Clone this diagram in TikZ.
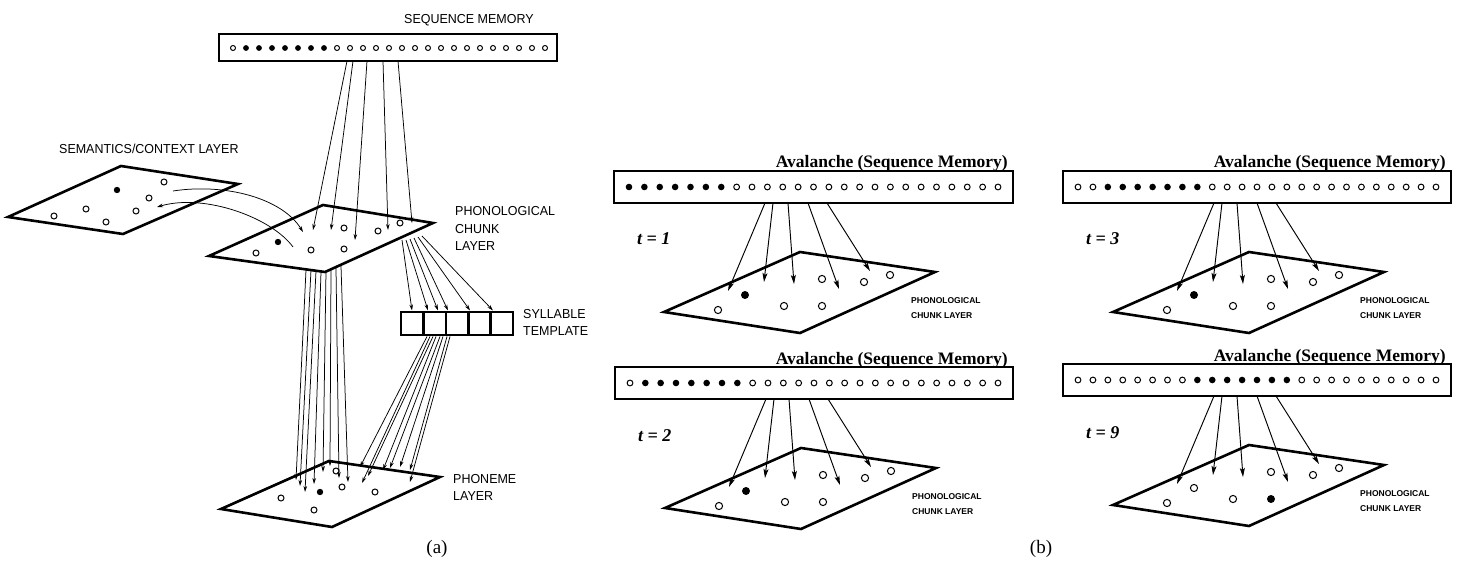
\documentclass[tikz,border=0pt]{standalone}
\usepackage{fontspec}
\setmainfont{Liberation Serif}
\setsansfont{Liberation Sans}
\usetikzlibrary{arrows.meta}
\tikzset{
  lab/.style={font=\sffamily\fontsize{13}{15}\selectfont, inner sep=0pt, anchor=base west, xscale=0.96},
  smalllab/.style={font=\sffamily\bfseries\fontsize{8.5}{10}\selectfont, inner sep=0pt, anchor=base west},
  avlab/.style={font=\rmfamily\bfseries\fontsize{17.5}{20}\selectfont, inner sep=0pt, anchor=base east},
  tlab/.style={font=\rmfamily\bfseries\itshape\fontsize{18}{20}\selectfont, inner sep=0pt, anchor=base west},
  caplab/.style={font=\rmfamily\fontsize{19}{22}\selectfont, inner sep=0pt},
  layerline/.style={line width=2.6pt, line join=miter, fill=white},
  seqbox/.style={draw, line width=1.9pt, inner sep=0pt, minimum height=27pt, fill=white},
  tbox/.style={draw, line width=2.6pt, inner sep=0pt, minimum width=22.4pt, minimum height=23pt},
  conn/.style={line width=0.75pt, -{Stealth[length=6pt,width=3.6pt]}},
  avarrow/.style={line width=0.95pt, -{Stealth[length=9pt,width=5pt,inset=2pt]}},
  odot/.style={line width=1pt, fill=white},
}
\newcommand\avpanel[7]{%
\begin{scope}[shift={(#1,#2)}]
  \node[seqbox, minimum width=#3pt, minimum height=32pt] (box#7) at (#3/2,16) {};
  \node[avlab] (av#7) at (#3-5,-3) {Avalanche (Sequence Memory)};
  \foreach \i in {0,...,24}{%
    \pgfmathsetmacro\dx{15+\i*(#3-30)/24}%
    \pgfmathtruncatemacro\isf{(\i>=#4)&&(\i<#4+7)}%
    \ifnum\isf=1 \fill (\dx,16) circle (3.3pt);
    \else \draw[odot] (\dx,16) circle (2.9pt); \fi
  }
  \draw[layerline] (50,141) -- (186,81) -- (321,101) -- (186,162) -- cycle;
  \foreach \dx/\dy/\k in {-82/58/1,-55/43/2,-16/54/3,22/54/4,22/27/5,64/30/6,90/23/7}{%
    \ifnum\k=#5 \fill (186+\dx,81+\dy) circle (4pt);
    \else \draw[odot] (186+\dx,81+\dy) circle (3.6pt); \fi
  }
  \foreach \sx/\ex/\ey [count=\j] in {151/114/120,159/150/111,174/180/113,194/225/118,213/256/100}{%
    \coordinate (s#7\j) at (\sx,32);
    \coordinate (e#7\j) at (\ex,\ey);
    \draw[avarrow] (s#7\j) -- (e#7\j);
  }
  \node[tlab] (t#7) at (23,74) {t = #6};
  \node[smalllab] (pl#7) at (297,132) {PHONOLOGICAL};
  \node[smalllab] (cl#7) at (297,147) {CHUNK LAYER};
\end{scope}}
\begin{document}
\begin{tikzpicture}[x=1pt,y=-1pt]
\useasboundingbox (0,0) rectangle (1460,564);
\fill[white] (0,0) rectangle (1460,564);

% ---------------- panel (a) ----------------
\node[lab] (seqlab) at (404,24) {SEQUENCE MEMORY};
\node[seqbox, minimum width=338pt] (seqa) at (388,47.5) {};
\foreach \i in {0,...,24}{%
  \pgfmathsetmacro\dx{233+13*\i}%
  \ifnum\i>0 \ifnum\i<8 \fill (\dx,48) circle (2.9pt); \else \draw[odot] (\dx,48) circle (2.5pt); \fi
  \else \draw[odot] (\dx,48) circle (2.5pt); \fi
}

\node[lab] (semlab) at (59,154) {SEMANTICS/CONTEXT LAYER};
\draw[layerline] (8,217) -- (121,166) -- (238,184) -- (123,234) -- cycle;
\fill (117,190) circle (3.2pt);
\foreach \x/\y in {164/182,149/198,136/211,86/209,54/216,106/222}{\draw[odot] (\x,\y) circle (3pt);}

\draw[layerline] (209,256) -- (323,205) -- (433,223) -- (325,272) -- cycle;
\fill (278,242) circle (3.2pt);
\foreach \x/\y in {256/253,311/250,344/249,344/228,378/231,400/223}{\draw[odot] (\x,\y) circle (3pt);}
\node[lab] (pcl1) at (455,216) {PHONOLOGICAL};
\node[lab] (pcl2) at (455,234) {CHUNK};
\node[lab] (pcl3) at (455,251) {LAYER};

\draw[layerline] (221,509) -- (329,461) -- (440,477) -- (332,527) -- cycle;
\fill (320,492) circle (3.2pt);
\foreach \x/\y in {281/498,314/510,336/471,342/487,375/492}{\draw[odot] (\x,\y) circle (3pt);}
\node[lab] (phl1) at (453,483) {PHONEME};
\node[lab] (phl2) at (453,500) {LAYER};

% syllable template
\foreach \k in {1,...,5}{\node[tbox] (syl\k) at (401+22.4*\k-11.2,323.5) {};}
\node[lab] (syll1) at (523,318) {SYLLABLE};
\node[lab] (syll2) at (523,335) {TEMPLATE};

% sequence memory -> chunk layer
\foreach \sx/\ex/\ey [count=\j] in {347/313/230,353/331/230,367/355/240,383/388/230,398/412/223}{%
  \coordinate (qa\j) at (\sx,61);
  \coordinate (qb\j) at (\ex,\ey);
  \draw[conn] (qa\j) -- (qb\j);
}
% semantics <-> chunk
\coordinate (c1a) at (173,191);
\coordinate (c1b) at (303,232);
\coordinate (c2a) at (293,247);
\coordinate (c2b) at (157,207);
\draw[conn] (c1a) .. controls (225,183) and (282,198) .. (c1b);
\draw[conn] (c2a) .. controls (272,218) and (205,193) .. (c2b);

% chunk -> phoneme (vertical bundle)
\foreach \sx/\sy/\ex/\ey [count=\j] in {306/270/296/480,311/270/300/486,316/271/305/492,321/272/314/484,326/271/323/472,331/269/330/466,336/268/339/478,341/266/348/482}{%
  \coordinate (va\j) at (\sx,\sy);
  \coordinate (vb\j) at (\ex,\ey);
  \draw[conn] (va\j) -- (vb\j);
}
% chunk -> syllable template
\foreach \sx/\sy/\ex [count=\j] in {402/240/412,406/240/428,410/239/438,414/238/448,418/237/470,422/236/493}{%
  \coordinate (ta\j) at (\sx,\sy);
  \coordinate (tb\j) at (\ex,310.5);
  \draw[conn] (ta\j) -- (tb\j);
}
% syllable template -> phoneme
\foreach \sx/\ex/\ey [count=\j] in {427/360/467,430/362/483,433/368/476,436/383/470,440/390/468,443/400/467,447/410/470,450/410/482}{%
  \coordinate (pa\j) at (\sx,336.5);
  \coordinate (pb\j) at (\ex,\ey);
  \draw[conn] (pa\j) -- (pb\j);
}
\node[caplab] (capa) at (437,549) {(a)};

% ---------------- panel (b) ----------------
\avpanel{614}{171}{399}{0}{2}{1}{A}
\avpanel{1063}{171}{388}{2}{2}{3}{B}
\avpanel{615}{367}{398}{1}{2}{2}{C}
\avpanel{1063}{364}{388}{8}{4}{9}{D}
\node[caplab] (capb) at (1041,549) {(b)};
\end{tikzpicture}
\end{document}
